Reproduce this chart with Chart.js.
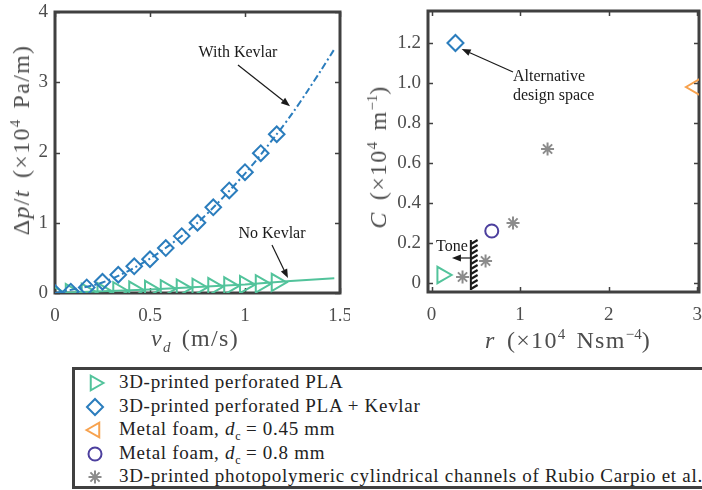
<!DOCTYPE html>
<html>
<head>
<meta charset="utf-8">
<script src="https://cdn.jsdelivr.net/npm/chart.js@4/dist/chart.umd.min.js"></script>
<style>
  html,body{margin:0;padding:0;background:#fff;}
  body{width:702px;height:490px;position:relative;overflow:hidden;font-family:"Liberation Serif","DejaVu Serif",serif;}
  canvas{position:absolute;}
  .ttl{position:absolute;white-space:nowrap;color:#4d4d4d;font-size:24px;line-height:1;letter-spacing:1.3px;word-spacing:4px;transform-origin:center center;}
  .ttl sup,.ttl sub{font-size:15px;line-height:0;letter-spacing:0;}
  #legend{position:absolute;left:72px;top:367px;width:660px;height:122px;border:3px solid #404040;box-sizing:border-box;}
  .lrow{position:absolute;left:44px;font-size:19px;color:#222;white-space:nowrap;line-height:1;letter-spacing:0.7px;}
  .lrow sub{font-size:12px;line-height:0;letter-spacing:0;}
</style>
</head>
<body>
<canvas id="c1" width="350" height="360" style="left:0;top:0"></canvas>
<canvas id="c2" width="352" height="360" style="left:350px;top:0"></canvas>

<div class="ttl" id="tyl" style="left:21px;top:140px;transform:translate(-50%,-50%) rotate(-90deg)">Δ<i>p</i>/<i>t</i> (×10<sup>4</sup> Pa/m)</div>
<div class="ttl" id="txl" style="left:195px;top:338px;transform:translate(-50%,-50%)"><i>v<sub>d</sub></i> (m/s)</div>
<div class="ttl" id="tyr" style="left:378px;top:157px;transform:translate(-50%,-50%) rotate(-90deg)"><i>C</i> (×10<sup>4</sup> m<sup>−1</sup>)</div>
<div class="ttl" id="txr" style="left:568px;top:340px;transform:translate(-50%,-50%)"><i>r</i> (×10<sup>4</sup> Nsm<sup>−4</sup>)</div>

<div id="legend">
  <canvas id="lg" width="40" height="120" style="left:0;top:0"></canvas>
  <div class="lrow" style="top:2px">3D-printed perforated PLA</div>
  <div class="lrow" style="top:26px">3D-printed perforated PLA + Kevlar</div>
  <div class="lrow" style="top:49px">Metal foam, <i>d</i><sub>c</sub> = 0.45 mm</div>
  <div class="lrow" style="top:73px">Metal foam, <i>d</i><sub>c</sub> = 0.8 mm</div>
  <div class="lrow" style="top:96px">3D-printed photopolymeric cylindrical channels of Rubio Carpio et al.</div>
</div>

<script>
// ---------- DATA (left panel) ----------
const vPLA      = [0, 0.083, 0.167, 0.25, 0.333, 0.417, 0.5, 0.583, 0.667, 0.75, 0.833, 0.917, 1.0, 1.083, 1.167];
const dpPLA     = [0, 0.005, 0.01, 0.02, 0.03, 0.04, 0.05, 0.06, 0.07, 0.08, 0.09, 0.10, 0.12, 0.13, 0.15];
const vKevlar   = [0, 0.083, 0.167, 0.25, 0.333, 0.417, 0.5, 0.583, 0.667, 0.75, 0.833, 0.917, 1.0, 1.083, 1.167];
const dpKevlar  = [0, 0.02, 0.08, 0.16, 0.26, 0.38, 0.48, 0.64, 0.81, 1.0, 1.22, 1.46, 1.72, 1.99, 2.26];
const vFitKevlar  = [0, 0.25, 0.5, 0.75, 1.0, 1.167, 1.25, 1.33, 1.4, 1.47];
const dpFitKevlar = [0, 0.15, 0.49, 1.0, 1.70, 2.26, 2.56, 2.88, 3.17, 3.47];
const vFitPLA   = [0, 0.5, 1.0, 1.24, 1.47];
const dpFitPLA  = [0, 0.05, 0.12, 0.17, 0.21];
const xTicksLeft  = [0, 0.5, 1, 1.5];
const xLabelsLeft = ['0', '0.5', '1', '1.5'];
const yTicksLeft  = [0, 1, 2, 3, 4];
const yLabelsLeft = ['0', '1', '2', '3', '4'];

// ---------- DATA (right panel) ----------
const rPLA = [0.12],  cPLA = [0.04];
const rKev = [0.27],  cKev = [1.2];
const rFoam045 = [2.98], cFoam045 = [0.98];
const rFoam08  = [0.68], cFoam08  = [0.26];
const rRubio = [0.35, 0.61, 0.92, 1.31];
const cRubio = [0.03, 0.11, 0.30, 0.67];
const xTicksRight  = [0, 1, 2, 3];
const xLabelsRight = ['0', '1', '2', '3'];
const yTicksRight  = [0, 0.2, 0.4, 0.6, 0.8, 1.0, 1.2];
const yLabelsRight = ['0', '0.2', '0.4', '0.6', '0.8', '1.0', '1.2'];

const GREEN = '#52c39b', BLUE = '#2b7dbd', ORANGE = '#f7a24e', PURPLE = '#4c3f9e', GRAY = '#8c8c8c';
const FRAME = '#404040', TICKC = '#4d4d4d';

const pts = (xs, ys) => xs.map((x, i) => ({x: x, y: ys[i]}));

function setTicks(vals) { return s => { s.ticks = vals.map(v => ({value: v})); }; }

const framePlugin = {
  id: 'frame',
  beforeDatasetsDraw(chart) {
    const {ctx, chartArea: a, scales} = chart;
    ctx.save();
    ctx.strokeStyle = FRAME;
    ctx.lineWidth = 1.5;
    const L = 5;
    ctx.beginPath();
    scales.x.ticks.forEach(t => {
      const p = Math.round(scales.x.getPixelForValue(t.value)) + 0.5;
      ctx.moveTo(p, a.bottom); ctx.lineTo(p, a.bottom - L);
      ctx.moveTo(p, a.top); ctx.lineTo(p, a.top + L);
    });
    scales.y.ticks.forEach(t => {
      const p = Math.round(scales.y.getPixelForValue(t.value)) + 0.5;
      ctx.moveTo(a.left, p); ctx.lineTo(a.left + L, p);
      ctx.moveTo(a.right, p); ctx.lineTo(a.right - L, p);
    });
    ctx.stroke();
    ctx.lineWidth = 3;
    ctx.strokeRect(a.left, a.top, a.right - a.left, a.bottom - a.top);
    ctx.restore();
  }
};

function arrow(ctx, x1, y1, x2, y2) {
  const ang = Math.atan2(y2 - y1, x2 - x1);
  const hl = 9, hw = 3.5;
  const bx = x2 - hl * Math.cos(ang), by = y2 - hl * Math.sin(ang);
  ctx.beginPath();
  ctx.moveTo(x1, y1); ctx.lineTo(bx, by);
  ctx.stroke();
  ctx.beginPath();
  ctx.moveTo(x2, y2);
  ctx.lineTo(bx + hw * Math.sin(ang), by - hw * Math.cos(ang));
  ctx.lineTo(bx - hw * Math.sin(ang), by + hw * Math.cos(ang));
  ctx.closePath();
  ctx.fill();
}

// annotations in data coordinates
const annLeft = {
  texts: [
    {t: 'With Kevlar', x: 0.963, y: 3.42},
    {t: 'No Kevlar',   x: 1.142, y: 0.84}
  ],
  arrows: [
    {x1: 0.963, y1: 3.245, x2: 1.237, y2: 2.66},
    {x1: 1.142, y1: 0.683, x2: 1.226, y2: 0.213}
  ]
};
const annRight = {
  texts: [
    {t: 'Alternative',  x: 0.92, y: 1.03, align: 'left'},
    {t: 'design space', x: 0.92, y: 0.935, align: 'left'},
    {t: 'Tone', x: 0.23, y: 0.18}
  ],
  arrows: [
    {x1: 0.92, y1: 1.055, x2: 0.34, y2: 1.17},
    {x1: 0.457, y1: 0.125, x2: 0.23, y2: 0.125}
  ],
  hatch: {x0: 0.444, x1: 0.52, y0: -0.035, y1: 0.215}
};

function annPlugin(ann) {
  return {
    id: 'ann',
    afterDatasetsDraw(chart) {
      const {ctx, scales: {x, y}} = chart;
      ctx.save();
      ctx.fillStyle = '#1a1a1a';
      ctx.strokeStyle = '#1a1a1a';
      ctx.lineWidth = 1.2;
      ctx.font = '16px "Liberation Serif", serif';
      ctx.textBaseline = 'middle';
      ann.texts.forEach(o => {
        ctx.textAlign = o.align || 'center';
        ctx.fillText(o.t, x.getPixelForValue(o.x), y.getPixelForValue(o.y));
      });
      ann.arrows.forEach(o => arrow(ctx, x.getPixelForValue(o.x1), y.getPixelForValue(o.y1),
                                         x.getPixelForValue(o.x2), y.getPixelForValue(o.y2)));
      if (ann.hatch) {
        const h = ann.hatch;
        const X0 = x.getPixelForValue(h.x0), X1 = x.getPixelForValue(h.x1);
        const Y0 = y.getPixelForValue(h.y0), Y1 = y.getPixelForValue(h.y1);
        ctx.lineWidth = 2;
        ctx.beginPath();
        ctx.moveTo(X0, Y0); ctx.lineTo(X0, Y1);
        ctx.stroke();
        ctx.lineWidth = 2.2;
        ctx.beginPath();
        for (let yy = Y0 - 1; yy > Y1 + 2; yy -= 5) {
          ctx.moveTo(X0, yy); ctx.lineTo(X1, yy - 4);
        }
        ctx.stroke();
      }
      ctx.restore();
    }
  };
}

const tickFont = {family: '"Liberation Serif", serif', size: 19};

function axes(xmin, xmax, ymin, ymax, xt, xl, yt, yl, yW, xH) {
  return {
    x: {
      type: 'linear', min: xmin, max: xmax,
      grid: {display: false, drawTicks: false}, border: {display: false},
      afterBuildTicks: setTicks(xt),
      afterFit: s => { s.height = xH; s.paddingLeft = 0; s.paddingRight = 0; },
      ticks: {font: tickFont, color: TICKC, padding: 12, maxRotation: 0, autoSkip: false,
              callback: (v, i) => xl[i]}
    },
    y: {
      type: 'linear', min: ymin, max: ymax,
      grid: {display: false, drawTicks: false}, border: {display: false},
      afterBuildTicks: setTicks(yt),
      afterFit: s => { s.width = yW; s.paddingTop = 0; s.paddingBottom = 0; },
      ticks: {font: tickFont, color: TICKC, padding: 7, autoSkip: false,
              callback: (v, i) => yl[i]}
    }
  };
}

const common = {
  responsive: false, animation: false, devicePixelRatio: 1,
  plugins: {legend: {display: false}, tooltip: {enabled: false}}
};

new Chart(document.getElementById('c1'), {
  type: 'scatter',
  data: {
    datasets: [
      {data: pts(vKevlar, dpKevlar), pointStyle: 'rectRot', pointRadius: 7.8, borderColor: BLUE,
       backgroundColor: 'rgba(0,0,0,0)', borderWidth: 2, showLine: false},
      {data: pts(vFitKevlar, dpFitKevlar), showLine: true, pointRadius: 0, borderColor: BLUE,
       borderWidth: 2, borderDash: [7, 3, 2, 3], tension: 0.3},
      {data: pts(vPLA, dpPLA), pointStyle: 'triangle', rotation: 90, pointRadius: 10, borderColor: GREEN,
       backgroundColor: 'rgba(0,0,0,0)', borderWidth: 2, showLine: false},
      {data: pts(vFitPLA, dpFitPLA), showLine: true, pointRadius: 0, borderColor: GREEN, borderWidth: 2}
    ]
  },
  options: Object.assign({}, common, {
    layout: {autoPadding: false, padding: {top: 12, right: 10, left: 0, bottom: 0}},
    scales: axes(0, 1.5, 0, 4, xTicksLeft, xLabelsLeft, yTicksLeft, yLabelsLeft, 55, 67)
  }),
  plugins: [framePlugin, annPlugin(annLeft)]
});

new Chart(document.getElementById('c2'), {
  type: 'scatter',
  data: {
    datasets: [
      {data: pts(rKev, cKev), pointStyle: 'rectRot', pointRadius: 8, borderColor: BLUE,
       backgroundColor: 'rgba(0,0,0,0)', borderWidth: 2},
      {data: pts(rPLA, cPLA), pointStyle: 'triangle', rotation: 90, pointRadius: 9.5, borderColor: GREEN,
       backgroundColor: 'rgba(0,0,0,0)', borderWidth: 2},
      {data: pts(rFoam045, cFoam045), pointStyle: 'triangle', rotation: -90, pointRadius: 9.5, borderColor: ORANGE,
       backgroundColor: 'rgba(0,0,0,0)', borderWidth: 2, clip: 0},
      {data: pts(rFoam08, cFoam08), pointStyle: 'circle', pointRadius: 6.5, borderColor: PURPLE,
       backgroundColor: 'rgba(0,0,0,0)', borderWidth: 2},
      {data: pts(rRubio, cRubio), pointStyle: 'star', pointRadius: 6.5, borderColor: GRAY,
       backgroundColor: 'rgba(0,0,0,0)', borderWidth: 2}
    ]
  },
  options: Object.assign({}, common, {
    layout: {autoPadding: false, padding: {top: 11, right: 3, left: 0, bottom: 0}},
    scales: axes(-0.04, 3.02, -0.045, 1.36, xTicksRight, xLabelsRight, yTicksRight, yLabelsRight, 78, 68)
  }),
  plugins: [framePlugin, annPlugin(annRight)]
});

// legend markers
(function () {
  const ctx = document.getElementById('lg').getContext('2d');
  const items = [
    {style: 'triangle', rot: 90, r: 8.5, c: GREEN},
    {style: 'rectRot', rot: 0, r: 8, c: BLUE},
    {style: 'triangle', rot: -90, r: 8.5, c: ORANGE},
    {style: 'circle', rot: 0, r: 6.5, c: PURPLE},
    {style: 'star', rot: 0, r: 6.5, c: GRAY}
  ];
  const ys = [13, 37, 60, 84, 107];
  items.forEach((it, i) => {
    ctx.save();
    ctx.strokeStyle = it.c; ctx.fillStyle = 'rgba(0,0,0,0)'; ctx.lineWidth = 2;
    Chart.helpers.drawPoint(ctx, {pointStyle: it.style, rotation: it.rot, radius: it.r, borderWidth: 2}, 20, ys[i]);
    ctx.restore();
  });
})();
</script>
</body>
</html>
